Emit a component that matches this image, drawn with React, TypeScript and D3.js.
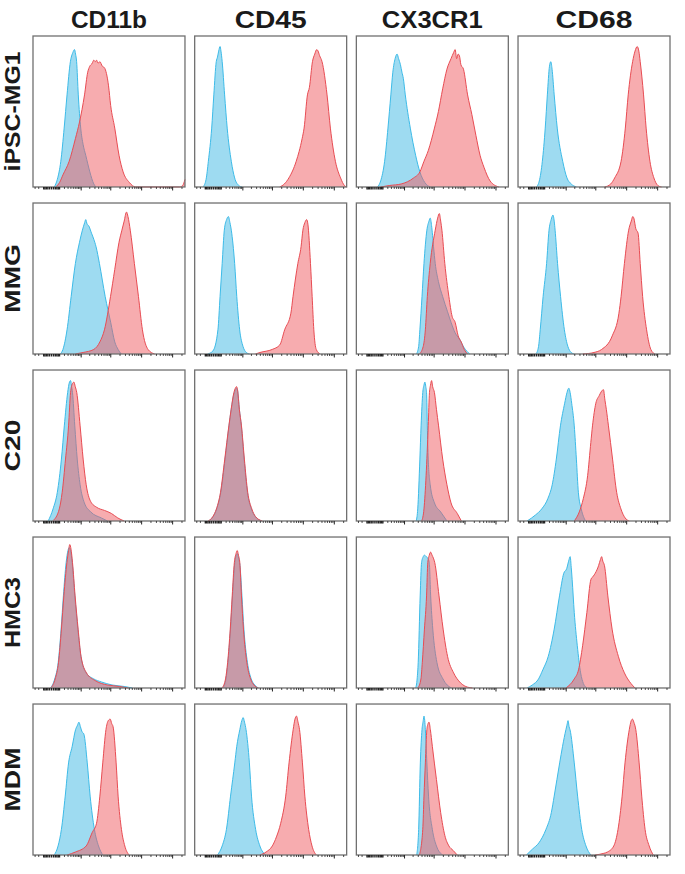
import React from 'react';
import * as d3 from 'd3';

// ---- labels ----
const markers = ['CD11b', 'CD45', 'CX3CR1', 'CD68'];
const cellLines = ['iPSC-MG1', 'MMG', 'C20', 'HMC3', 'MDM'];
// measured label lengths in the reference (px)
const markerLabelWidths = [76, 72, 101, 77];
const cellLabelWidths = [120, 69, 52, 71, 64];

// ---- axis ticks (fluorescence units, biexponential-like display) ----
const zeroTicks = [-100, -80, -60, -40, -20, 0, 20, 40, 60, 80, 100];
const minorTicks = [-300, -200, 200, 300, 400, 500, 600, 700, 800, 900,
  2e3, 3e3, 4e3, 5e3, 6e3, 7e3, 8e3, 9e3,
  2e4, 3e4, 4e4, 5e4, 6e4, 7e4, 8e4, 9e4,
  2e5, 3e5, 4e5, 5e5, 6e5, 7e5, 8e5, 9e5, 2e6];
const majorTicks = [1e3, 1e4, 1e5, 1e6];

// ---- histograms: [display channel 0-1000, % of panel height] ----
// blue = isotype control, red = antibody
const ipsc_cd11b_iso = [[140,0],[160,5],[183,17],[205,39],[224,61],[246,83],[262,89],[273,91],[280,88],[287,83],[298,61],[314,39],[330,28],[347,21],[374,10],[400,2],[415,0]];
const ipsc_cd11b_ab = [[150,0],[175,3],[197,8],[238,17],[279,32],[306,43],[339,61],[360,76],[374,80],[390,82],[400,84],[410,83],[418,84],[428,82],[440,83],[456,80],[470,79],[497,67],[511,54],[538,39],[566,21],[593,10],[634,3],[675,0],[965,0],[985,1],[1000,5]];
const ipsc_cd45_iso = [[55,0],[75,5],[90,17],[112,39],[126,61],[142,83],[150,86],[158,90],[167,93],[173,90],[181,83],[197,61],[214,39],[241,17],[263,6],[290,1],[312,0]];
const ipsc_cd45_ab = [[560,0],[590,2],[620,6],[668,17],[707,32],[720,39],[742,61],[755,66],[775,83],[790,88],[803,91],[812,90],[822,87],[838,83],[871,61],[893,39],[926,17],[960,6],[985,1],[1000,0]];
const ipsc_cx3cr1_iso = [[140,0],[160,4],[186,17],[208,39],[227,61],[240,76],[255,85],[268,88],[278,85],[290,81],[300,76],[309,72],[322,61],[355,39],[390,21],[418,10],[450,3],[486,0]];
const ipsc_cx3cr1_ab = [[160,0],[220,1],[295,2],[377,6],[418,10],[445,17],[473,24],[514,39],[540,50],[568,65],[596,78],[623,85],[640,89],[650,91],[660,85],[670,88],[678,87],[688,81],[705,78],[732,61],[760,48],[787,34],[814,21],[840,13],[880,4],[937,0]];
const ipsc_cd68_iso = [[120,0],[140,4],[160,17],[179,39],[193,61],[207,80],[216,83],[224,78],[238,61],[258,39],[294,17],[322,6],[350,2],[384,0]];
const ipsc_cd68_ab = [[570,0],[610,2],[636,6],[678,17],[706,39],[725,61],[754,83],[770,90],[784,93],[795,90],[804,83],[826,61],[843,39],[868,17],[894,6],[920,1],[944,0]];

const mmg_cd11b_iso = [[180,0],[197,3],[224,16],[251,38],[279,60],[306,74],[325,82],[340,87],[347,89],[356,86],[366,85],[385,80],[400,76],[415,71],[437,60],[475,38],[511,21],[538,8],[560,3],[580,0]];
const mmg_cd11b_ab = [[280,0],[330,1],[400,3],[440,8],[470,16],[510,38],[538,56],[566,74],[585,82],[600,88],[615,94],[625,91],[640,82],[667,60],[694,38],[720,16],[757,3],[800,0]];
const mmg_cd45_iso = [[85,0],[120,2],[153,16],[167,38],[181,60],[195,82],[210,89],[222,91],[232,87],[241,82],[263,60],[277,38],[296,16],[318,5],[340,1],[360,0]];
const mmg_cd45_ab = [[400,0],[430,1],[510,3],[560,6],[592,16],[633,27],[647,38],[679,60],[700,71],[712,82],[725,87],[737,89],[745,86],[762,60],[773,38],[784,16],[800,3],[825,0]];
const mmg_cx3cr1_iso = [[395,0],[410,5],[418,16],[432,38],[445,60],[464,82],[478,88],[486,90],[495,85],[508,71],[519,60],[540,48],[568,38],[600,28],[623,21],[650,14],[678,10],[710,4],[746,0]];
const mmg_cx3cr1_ab = [[415,0],[440,5],[454,16],[467,38],[486,60],[519,82],[535,90],[546,93],[555,88],[563,82],[582,60],[609,38],[630,25],[650,21],[670,12],[690,8],[710,3],[732,0]];
const mmg_cd68_iso = [[118,0],[135,5],[146,16],[165,38],[188,60],[204,82],[218,89],[230,92],[238,88],[244,82],[260,60],[280,38],[305,16],[328,5],[350,1],[370,0]];
const mmg_cd68_ab = [[426,0],[500,1],[550,3],[620,12],[664,27],[678,38],[700,60],[728,82],[745,88],[755,91],[762,90],[775,83],[790,80],[804,60],[820,38],[846,16],[874,3],[900,0]];

const c20_cd11b_iso = [[100,0],[132,8],[160,19],[187,41],[206,63],[228,85],[240,92],[247,93],[253,90],[260,85],[275,63],[291,41],[310,24],[338,12],[380,6],[450,2],[490,0]];
const c20_cd11b_ab = [[130,0],[173,8],[192,19],[214,41],[234,63],[247,85],[260,91],[269,92],[278,89],[288,85],[310,63],[330,41],[350,24],[379,13],[420,9],[470,7],[516,5],[558,2],[600,0]];
const c20_cd45_iso = [[92,0],[122,3],[145,8],[172,19],[200,41],[226,63],[242,75],[258,84],[270,87],[276,88],[283,86],[294,74],[307,63],[325,41],[347,19],[373,8],[398,3],[440,0]];
const c20_cd45_ab = [[88,0],[120,3],[143,8],[170,19],[198,41],[225,63],[240,74],[258,85],[268,88],[275,89],[282,87],[294,74],[308,63],[327,41],[349,19],[376,8],[400,3],[445,0]];
const c20_cx3cr1_iso = [[394,0],[404,8],[418,41],[426,63],[437,85],[445,90],[451,92],[457,89],[462,85],[467,63],[473,41],[486,24],[514,12],[555,6],[596,0]];
const c20_cx3cr1_ab = [[430,0],[445,8],[459,30],[473,63],[481,85],[488,90],[495,93],[502,89],[514,85],[527,74],[541,63],[568,41],[596,24],[623,12],[664,5],[691,0]];
const c20_cd68_iso = [[60,0],[115,4],[156,8],[197,15],[225,24],[252,41],[279,63],[307,78],[322,85],[334,88],[343,85],[353,78],[370,63],[384,41],[397,19],[416,8],[444,0]];
const c20_cd68_ab = [[370,0],[403,6],[430,15],[458,30],[479,52],[490,63],[512,78],[534,83],[550,86],[562,87],[572,80],[581,74],[595,63],[622,41],[649,19],[677,8],[705,2],[732,0]];

const hmc3_cd11b_iso = [[115,0],[143,6],[166,17],[185,39],[200,61],[218,83],[230,91],[238,93],[247,91],[258,83],[275,61],[295,39],[315,21],[350,10],[400,6],[450,4],[520,2],[600,1],[654,0]];
const hmc3_cd11b_ab = [[118,0],[146,6],[168,17],[187,39],[203,61],[223,83],[234,91],[242,95],[250,92],[260,83],[277,61],[297,39],[316,21],[352,10],[407,5],[450,3],[490,2],[570,1],[626,0]];
const hmc3_cd45_iso = [[185,0],[206,6],[219,17],[236,39],[249,61],[263,82],[274,88],[281,89],[289,86],[299,80],[311,61],[324,39],[347,17],[372,6],[395,2],[420,0]];
const hmc3_cd45_ab = [[180,0],[203,6],[217,17],[234,39],[247,61],[261,83],[272,89],[280,91],[288,88],[297,83],[308,61],[321,39],[343,17],[368,6],[390,2],[418,0]];
const hmc3_cx3cr1_iso = [[390,0],[400,6],[407,17],[420,61],[429,83],[440,87],[448,88],[460,87],[470,86],[480,83],[489,61],[503,39],[530,17],[570,6],[626,0]];
const hmc3_cx3cr1_ab = [[405,0],[425,6],[434,17],[448,39],[462,61],[470,83],[480,88],[489,90],[498,88],[507,86],[516,83],[544,61],[571,39],[600,21],[640,10],[680,4],[720,1],[764,0]];
const hmc3_cd68_iso = [[60,0],[94,2],[135,6],[163,12],[199,21],[238,39],[273,61],[301,76],[320,79],[333,84],[343,87],[350,80],[356,72],[370,50],[390,28],[412,10],[430,3],[453,0]];
const hmc3_cd68_ab = [[315,0],[370,6],[398,12],[425,28],[453,50],[480,72],[495,74],[508,76],[530,81],[542,85],[550,87],[558,84],[569,81],[591,61],[619,39],[660,21],[700,10],[743,3],[770,0]];

const mdm_cd11b_iso = [[140,0],[165,6],[187,17],[212,39],[234,61],[258,72],[280,83],[293,86],[302,88],[312,85],[321,82],[335,80],[357,61],[376,39],[404,17],[431,6],[459,0]];
const mdm_cd11b_ab = [[225,0],[280,2],[350,6],[390,15],[418,21],[440,39],[459,61],[480,83],[495,89],[508,90],[518,87],[527,85],[547,61],[560,39],[582,17],[604,6],[632,0]];
const mdm_cd45_iso = [[150,0],[181,6],[209,17],[236,39],[264,61],[277,72],[297,83],[310,89],[319,91],[328,88],[338,83],[360,61],[374,39],[401,17],[429,6],[470,0]];
const mdm_cd45_ab = [[429,0],[470,2],[511,6],[538,12],[566,21],[599,39],[621,61],[648,83],[660,90],[670,92],[680,88],[690,83],[709,61],[725,39],[750,17],[772,6],[800,0]];
const mdm_cx3cr1_iso = [[397,0],[410,17],[421,61],[432,83],[440,89],[445,92],[450,89],[454,83],[464,61],[475,39],[500,17],[527,6],[568,0]];
const mdm_cx3cr1_ab = [[415,0],[437,17],[445,39],[454,61],[464,83],[472,87],[478,88],[487,83],[500,72],[527,50],[555,28],[582,13],[609,6],[637,3],[664,0]];
const mdm_cd68_iso = [[55,0],[96,4],[137,8],[184,17],[219,28],[238,39],[274,61],[293,72],[315,83],[322,86],[329,89],[336,85],[342,83],[370,61],[392,39],[419,17],[447,6],[479,0]];
const mdm_cd68_ab = [[507,0],[560,1],[589,2],[630,6],[658,17],[685,39],[704,61],[732,83],[745,89],[753,90],[762,88],[775,83],[797,61],[814,39],[836,17],[863,6],[890,0]];

// grid table built from the arrays: rows = cell lines, cols = markers
const grid = [
  [[ipsc_cd11b_iso, ipsc_cd11b_ab], [ipsc_cd45_iso, ipsc_cd45_ab], [ipsc_cx3cr1_iso, ipsc_cx3cr1_ab], [ipsc_cd68_iso, ipsc_cd68_ab]],
  [[mmg_cd11b_iso, mmg_cd11b_ab], [mmg_cd45_iso, mmg_cd45_ab], [mmg_cx3cr1_iso, mmg_cx3cr1_ab], [mmg_cd68_iso, mmg_cd68_ab]],
  [[c20_cd11b_iso, c20_cd11b_ab], [c20_cd45_iso, c20_cd45_ab], [c20_cx3cr1_iso, c20_cx3cr1_ab], [c20_cd68_iso, c20_cd68_ab]],
  [[hmc3_cd11b_iso, hmc3_cd11b_ab], [hmc3_cd45_iso, hmc3_cd45_ab], [hmc3_cx3cr1_iso, hmc3_cx3cr1_ab], [hmc3_cd68_iso, hmc3_cd68_ab]],
  [[mdm_cd11b_iso, mdm_cd11b_ab], [mdm_cd45_iso, mdm_cd45_ab], [mdm_cx3cr1_iso, mdm_cx3cr1_ab], [mdm_cd68_iso, mdm_cd68_ab]],
];

const W = 685, H = 874;
const FONT = '"Liberation Sans", Arial, Helvetica, sans-serif';
const BLUE_FILL = '#4fbde6', BLUE_LINE = '#3dbbe8';
const RED_FILL = '#ef5a60', RED_LINE = '#e84c53';

export default function App() {
  const colBand = d3.scaleBand<string>().domain(markers).range([33, 670]).paddingInner(0.06).paddingOuter(0);
  const rowBand = d3.scaleBand<string>().domain(cellLines).range([36, 855]).paddingInner(0.096).paddingOuter(0);
  const pw = colBand.bandwidth();
  const ph = rowBand.bandwidth();

  const x = d3.scaleLinear().domain([0, 1000]).range([0, pw]);
  const y = d3.scaleLinear().domain([0, 100]).range([ph, 0]);
  // fluorescence -> display channel
  const biex = d3.scaleSymlog().constant(125).domain([-372, 2.5e6]).range([0, 1000]);

  const area = d3.area<number[]>().x(d => x(d[0])).y0(y(0)).y1(d => y(d[1])).curve(d3.curveMonotoneX);
  const line = d3.line<number[]>().x(d => x(d[0])).y(d => y(d[1])).curve(d3.curveMonotoneX);

  const tickLines = (vals: number[], len: number, sw: number, key: string) =>
    vals.map((v, i) => {
      const tx = x(biex(v));
      return <line key={key + i} x1={tx} x2={tx} y1={ph} y2={ph + len} stroke="#222" strokeWidth={sw} />;
    });

  return (
    <svg width={W} height={H} style={{ position: 'absolute', left: 0, top: 0, background: '#fff' }}>
      <rect x={0} y={0} width={W} height={H} fill="#fff" />
      {markers.map((m, i) => (
        <text key={m} x={(colBand(m) as number) + pw / 2} y={28} textAnchor="middle"
          textLength={markerLabelWidths[i]} lengthAdjust="spacingAndGlyphs"
          fontFamily={FONT} fontWeight="bold" fontSize={23} fill="#1a1a1a">{m}</text>
      ))}
      {cellLines.map((c, i) => {
        const cy = (rowBand(c) as number) + ph / 2;
        return (
          <text key={c} x={20} y={cy} textAnchor="middle" transform={`rotate(-90, 20, ${cy})`}
            textLength={cellLabelWidths[i]} lengthAdjust="spacingAndGlyphs"
            fontFamily={FONT} fontWeight="bold" fontSize={22} fill="#1a1a1a">{c}</text>
        );
      })}
      {cellLines.map((c, ri) => markers.map((m, ci) => {
        const [iso, ab] = grid[ri][ci];
        return (
          <g key={c + m} transform={`translate(${colBand(m)},${rowBand(c)})`}>
            <path d={area(iso) as string} fill={BLUE_FILL} fillOpacity={0.55} />
            <path d={line(iso) as string} fill="none" stroke={BLUE_LINE} strokeWidth={1} />
            <path d={area(ab) as string} fill={RED_FILL} fillOpacity={0.5} />
            <path d={line(ab) as string} fill="none" stroke={RED_LINE} strokeWidth={1} />
            <rect x={0} y={0} width={pw} height={ph} fill="none" stroke="#707070" strokeWidth={1.3} />
            {tickLines(zeroTicks, 2.5, 1.4, 'z')}
            {tickLines(minorTicks, 2, 0.8, 'm')}
            {tickLines(majorTicks, 3.5, 1, 'M')}
          </g>
        );
      }))}
    </svg>
  );
}
